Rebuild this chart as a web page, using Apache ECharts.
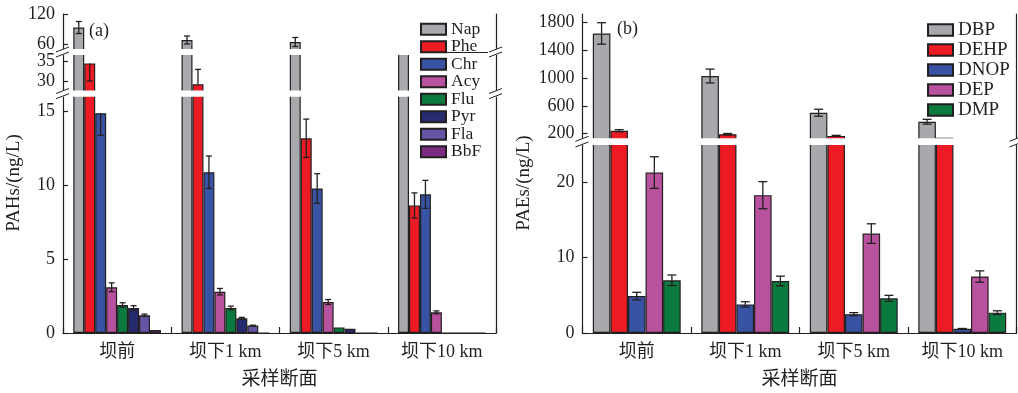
<!DOCTYPE html>
<html>
<head>
<meta charset="utf-8">
<script src="https://cdn.jsdelivr.net/npm/echarts@6/dist/echarts.min.js"></script>
<style>
  html, body { margin: 0; background: #fff; }
  #main { width: 1018px; height: 393px; }
</style>
</head>
<body>
<div id="main"></div>
<script>
// sampling sections (x categories)
const sites = ["坝前", "坝下1 km", "坝下5 km", "坝下10 km"];

// (a) PAHs, ng/L  (mean, error)
const pahNames = ["Nap", "Phe", "Chr", "Acy", "Flu", "Pyr", "Fla", "BbF"];
const nap    = [93, 68, 64, 42];
const napErr = [12, 8, 9, 0];
const phe    = [34.4, 29.2, 13.2, 8.65];
const pheErr = [4.4, 3.7, 1.3, 0.85];
const chr    = [14.9, 10.9, 9.8, 9.4];
const chrErr = [1.5, 1.1, 1.0, 0.95];
const acy    = [3.1, 2.8, 2.1, 1.4];
const acyErr = [0.3, 0.22, 0.17, 0.1];
const flu    = [1.9, 1.7, 0.38, 0];
const fluErr = [0.15, 0.12, 0, 0];
const pyr    = [1.7, 1.0, 0.28, 0];
const pyrErr = [0.15, 0.06, 0, 0];
const fla    = [1.2, 0.5, 0, 0];
const flaErr = [0.08, 0.03, 0, 0];
const bbf    = [0.2, 0, 0, 0];
const bbfErr = [0, 0, 0, 0];

// (b) PAEs, ng/L
const paeNames = ["DBP", "DEHP", "DNOP", "DEP", "DMP"];
const dbp     = [1645, 1030, 500, 370];
const dbpErr  = [155, 100, 50, 35];
const dehp    = [240, 190, 165, 140];
const dehpErr = [15, 10, 8, 0];
const dnop    = [4.9, 3.8, 2.5, 0.55];
const dnopErr = [0.5, 0.35, 0.2, 0.05];
const dep     = [21.3, 18.3, 13.2, 7.5];
const depErr  = [2.1, 1.8, 1.3, 0.75];
const dmp     = [7.0, 6.9, 4.6, 2.7];
const dmpErr  = [0.7, 0.65, 0.4, 0.25];

const INK = "#231f20";
const FONT = '"Liberation Serif", "Times New Roman", "Noto Sans CJK SC", serif';
const GAP = 0.19;

// each panel is a stack of grids sharing the x axis (broken y axis)
const panels = [
  {
    left: 63, right: 522, cap: 3,
    names: pahNames,
    values: [nap, phe, chr, acy, flu, pyr, fla, bbf],
    errs: [napErr, pheErr, chrErr, acyErr, fluErr, pyrErr, flaErr, bbfErr],
    colors: ["#a7a9ac", "#ed1c24", "#3953a4", "#b8529e", "#0b7a3e", "#262b70", "#6654a5", "#7d2a83"],
    segs: [
      { top: 14, height: 38, min: 44, max: 120, ticks: [60, 120] },
      { top: 52, height: 41.6, min: 26.85, max: 37.25, ticks: [30, 35] },
      { top: 93.6, height: 239.4, min: 0, max: 16.23, ticks: [0, 5, 10, 15] },
    ],
  },
  {
    left: 582.5, right: 1.5, cap: 4.5,
    names: paeNames,
    values: [dbp, dehp, dnop, dep, dmp],
    errs: [dbpErr, dehpErr, dnopErr, depErr, dmpErr],
    colors: ["#a7a9ac", "#ed1c24", "#3953a4", "#b8529e", "#0b7a3e"],
    segs: [
      { top: 14, height: 127.7, min: 81.5, max: 1925.6, ticks: [200, 600, 1000, 1400, 1800] },
      { top: 141.7, height: 191.3, min: 0, max: 25.4, ticks: [0, 10, 20] },
    ],
  },
];

function errBars(n, cap) {
  return function (params, api) {
    const err = api.value(2);
    if (!err) return;
    const cat = api.value(0), val = api.value(1), k = api.value(3);
    const cs = params.coordSys;
    const top = cs.y, bottom = cs.y + cs.height;
    const bw = api.size([1, 0])[0] * (1 - GAP) / n;
    const p = api.coord([cat, val]);
    const x = p[0] + (k - (n - 1) / 2) * bw;
    const y = p[1];
    if (y < top || y > bottom) return;
    const yHi = api.coord([cat, val + err])[1];
    const yLo = api.coord([cat, val - err])[1];
    const line = (x1, y1, x2, y2) => ({
      type: "line", shape: { x1, y1, x2, y2 }, style: { stroke: INK, lineWidth: 1.3 },
    });
    const children = [];
    // a whisker whose end leaves the segment is left out, like the original
    if (yHi >= top) children.push(line(x, y, x, yHi), line(x - cap, yHi, x + cap, yHi));
    if (yLo <= bottom) children.push(line(x, y, x, yLo), line(x - cap, yLo, x + cap, yLo));
    return { type: "group", children };
  };
}

const grid = [], xAxis = [], yAxis = [], series = [];

panels.forEach(p => {
  p.segs.forEach((s, si) => {
    const gi = grid.length;
    const last = si === p.segs.length - 1;
    grid.push({ left: p.left, right: p.right, top: s.top, height: s.height, outerBoundsMode: "none" });

    xAxis.push({
      gridIndex: gi, type: "category", data: sites,
      position: last ? "bottom" : "top",
      axisLine: { show: last || si === 0, lineStyle: { color: INK, width: 1.2 } },
      axisTick: { show: last, inside: true, length: 6, lineStyle: { color: INK, width: 1.2 } },
      axisLabel: { show: last, fontSize: 18, color: INK, fontFamily: FONT, margin: 10 },
      name: last ? "采样断面" : "", nameLocation: "middle", nameGap: 38,
      nameTextStyle: { fontSize: 19, color: INK, fontFamily: FONT },
    });

    const yi = yAxis.length;
    yAxis.push({
      gridIndex: gi, type: "value", position: "left", min: s.min, max: s.max,
      axisLine: { show: true, lineStyle: { color: INK, width: 1.2 } },
      axisTick: { show: true, inside: true, length: 5, customValues: s.ticks, lineStyle: { color: INK, width: 1.2 } },
      axisLabel: {
        customValues: s.ticks, formatter: v => String(v),
        fontSize: 18, color: INK, fontFamily: FONT, margin: 8,
      },
      splitLine: { show: false },
    });
    // right frame line
    yAxis.push({
      gridIndex: gi, type: "value", position: "right",
      axisLine: { show: true, lineStyle: { color: INK, width: 1.2 } },
      axisTick: { show: false }, axisLabel: { show: false }, splitLine: { show: false },
    });

    const errData = [];
    p.names.forEach((name, k) => {
      series.push({
        type: "bar", name, xAxisIndex: gi, yAxisIndex: yi,
        data: p.values[k],
        barGap: "0%", barCategoryGap: GAP * 100 + "%",
        clip: true, silent: true,
        itemStyle: { color: p.colors[k], borderColor: INK, borderWidth: 1.2 },
      });
      p.values[k].forEach((v, c) => errData.push([c, v, p.errs[k][c], k]));
    });
    series.push({
      type: "custom", name: "err" + gi, xAxisIndex: gi, yAxisIndex: yi,
      data: errData, encode: { x: 0, y: 1 }, z: 5, silent: true,
      renderItem: errBars(p.names.length, p.cap),
    });
  });
});

// white gaps + break marks on the axes
const graphic = [];
function breakAt(x0, x1, g0, g1, axes) {
  graphic.push({ type: "rect", z: 50, shape: { x: x0, y: g0, width: x1 - x0, height: g1 - g0 }, style: { fill: "#fff" } });
  axes.forEach(ax => {
    [[g0 + 3, g0 - 2], [g1 + 2, g1 - 3]].forEach(([ya, yb]) => {
      graphic.push({ type: "line", z: 51, shape: { x1: ax - 7, y1: ya, x2: ax + 6, y2: yb }, style: { stroke: INK, lineWidth: 1 } });
    });
  });
}
// (a): keep the legend column clear
breakAt(57, 420, 49, 55, [63]);
breakAt(488, 502, 49, 55, [496]);
breakAt(57, 420, 90.5, 96.7, [63]);
breakAt(488, 502, 90.5, 96.7, [496]);
// (b)
breakAt(577, 1018, 138.3, 145, [582.5, 1016.5]);

const txt = (text, x, y, size, rot, align) => ({
  type: "text", x, y, rotation: rot || 0, z: 60,
  style: { text, fill: INK, font: size + "px " + FONT, align: align || "center", verticalAlign: "middle" },
});
graphic.push(txt("PAHs/(ng/L)", 14, 183, 19, Math.PI / 2));
graphic.push(txt("PAEs/(ng/L)", 524, 183, 19, Math.PI / 2));
graphic.push(txt("(a)", 89, 31, 18, 0, "left"));
graphic.push(txt("(b)", 617, 29, 18, 0, "left"));

const chart = echarts.init(document.getElementById("main"));
chart.setOption({
  animation: false,
  backgroundColor: "#fff",
  grid, xAxis, yAxis, series, graphic,
  legend: [
    {
      data: pahNames, orient: "vertical", left: 420, top: 20.5, padding: 0,
      itemWidth: 25, itemHeight: 11, itemGap: 0, icon: "rect", selectedMode: false,
      textStyle: { fontSize: 17.5, lineHeight: 15, color: INK, fontFamily: FONT },
    },
    {
      data: paeNames, orient: "vertical", left: 927, top: 20.5, padding: 0,
      itemWidth: 25, itemHeight: 11.5, itemGap: 1, icon: "rect", selectedMode: false,
      textStyle: { fontSize: 19, lineHeight: 16, color: INK, fontFamily: FONT },
    },
  ],
});
window.addEventListener("resize", () => chart.resize());
</script>
</body>
</html>
